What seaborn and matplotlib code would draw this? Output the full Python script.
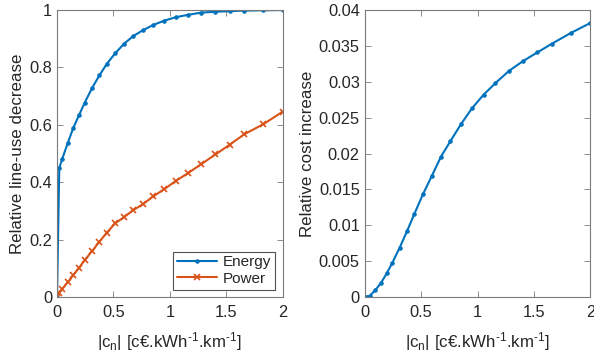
import matplotlib
matplotlib.use('Agg')
import matplotlib.pyplot as plt
import seaborn as sns
import pandas as pd

# |c_n| grid shared by all curves
cn = [0, 0.02, 0.045, 0.095, 0.145, 0.195, 0.245, 0.31, 0.375, 0.44, 0.515, 0.595,
      0.675, 0.758, 0.853, 0.95, 1.053, 1.157, 1.277, 1.404, 1.53, 1.658, 1.826, 2.0]

energy = [0, 0.45, 0.48, 0.537, 0.59, 0.634, 0.677, 0.728, 0.772, 0.812, 0.849, 0.883,
          0.909, 0.929, 0.948, 0.963, 0.975, 0.983, 0.991, 0.994, 0.996, 0.998, 0.999, 1.0]

power = [0, 0.016, 0.028, 0.052, 0.077, 0.102, 0.129, 0.16, 0.193, 0.224, 0.257, 0.279,
         0.303, 0.323, 0.351, 0.376, 0.405, 0.431, 0.463, 0.497, 0.531, 0.567, 0.602, 0.646]

cost = [0, 0.00005, 0.00018, 0.001, 0.002, 0.0033, 0.0048, 0.0069, 0.0092, 0.0116, 0.0143,
        0.0169, 0.01955, 0.0217, 0.0241, 0.0263, 0.0282, 0.0298, 0.0315, 0.0329, 0.0341,
        0.0353, 0.0368, 0.0382]

BLUE = '#0072BD'
ORANGE = '#D95319'
AX_COLOR = '#262626'
SPINE_COLOR = '#7a7a7a'

sns.set_style('white')
plt.rcParams['font.family'] = ['Liberation Sans', 'DejaVu Sans']
plt.rcParams['mathtext.fontset'] = 'custom'
plt.rcParams['mathtext.rm'] = 'Liberation Sans'
plt.rcParams['mathtext.default'] = 'regular'

df = pd.DataFrame({'cn': cn, 'energy': energy, 'power': power, 'cost': cost})

fig = plt.figure(figsize=(5.94, 3.58), dpi=100)
ax1 = fig.add_axes([0.096, 0.170, 0.380, 0.802])
ax2 = fig.add_axes([0.614, 0.170, 0.380, 0.802])

# 左图：线路使用减少
sns.lineplot(data=df, x='cn', y='energy', ax=ax1, color=BLUE, lw=1.5,
             marker='.', markersize=5, markeredgecolor=BLUE, label='Energy')
sns.lineplot(data=df, x='cn', y='power', ax=ax1, color=ORANGE, lw=1.5,
             marker='x', markersize=4, markeredgewidth=1.2, markeredgecolor=ORANGE,
             label='Power')
ax1.set_ylim(0, 1)
ax1.set_yticks([0, 0.2, 0.4, 0.6, 0.8, 1])
ax1.set_yticklabels(['0', '0.2', '0.4', '0.6', '0.8', '1'])
ax1.set_ylabel('Relative line-use decrease', fontsize=12.2, labelpad=3)

leg = ax1.legend(loc='lower right', fontsize=11, frameon=True, fancybox=False,
                 borderpad=0.25, labelspacing=0.15, handlelength=2.6,
                 handletextpad=0.4, borderaxespad=0.5)
leg.get_frame().set_edgecolor(AX_COLOR)
leg.get_frame().set_linewidth(0.8)

# 右图：成本增加
sns.lineplot(data=df, x='cn', y='cost', ax=ax2, color=BLUE, lw=1.5,
             marker='.', markersize=5, markeredgecolor=BLUE)
ax2.set_ylim(0, 0.04)
ax2.set_yticks([0, 0.005, 0.01, 0.015, 0.02, 0.025, 0.03, 0.035, 0.04])
ax2.set_yticklabels(['0', '0.005', '0.01', '0.015', '0.02', '0.025', '0.03', '0.035', '0.04'])
ax2.set_ylabel('Relative cost increase', fontsize=12.2, labelpad=3)

for ax in (ax1, ax2):
    ax.set_xlim(0, 2)
    ax.set_xticks([0, 0.5, 1, 1.5, 2])
    ax.set_xticklabels(['0', '0.5', '1', '1.5', '2'])
    ax.set_xlabel('|c$_n$| [c€.kWh$^{\u2010 1}$.km$^{\u2010 1}$]', fontsize=12.2,
                  labelpad=7)
    ax.tick_params(direction='in', length=4, width=0.6, colors=SPINE_COLOR,
                   labelsize=11.8, top=True, right=True, bottom=True, left=True,
                   labelcolor=AX_COLOR)
    ax.tick_params(axis='x', pad=6)
    for sp in ax.spines.values():
        sp.set_visible(True)
        sp.set_color(SPINE_COLOR)
        sp.set_linewidth(0.8)

fig.savefig('out.png', dpi=100)
